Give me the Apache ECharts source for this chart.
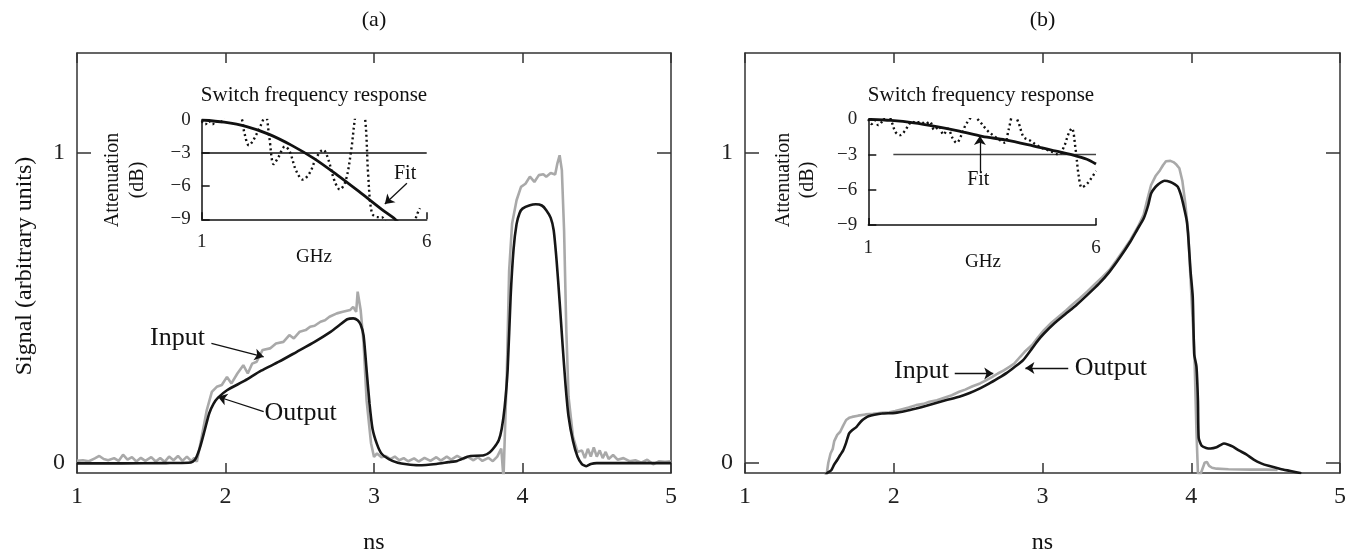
<!DOCTYPE html>
<html><head><meta charset="utf-8">
<script src="https://cdn.jsdelivr.net/npm/echarts@6/dist/echarts.min.js"></script>
<style>html,body{margin:0;padding:0;background:#fff}#c{width:1352px;height:556px}</style>
</head><body><div id="c"></div><script>
const FONT = '"Liberation Serif","Times New Roman",serif';

// ---- axis ticks ----
const mainXTicks = [1, 2, 3, 4, 5];
const mainYTicks = [0, 1];
const insetXTicks = [1, 6];
const insetYTicks = [0, -3, -6, -9];

// ---- panel (a) main curves [ns, signal] ----
const inputA = [[1.00,0.006],[1.04,0.008],[1.08,0.005],[1.12,0.014],[1.15,0.022],[1.18,0.012],[1.21,0.008],[1.25,0.015],[1.28,0.006],[1.31,0.026],[1.34,0.010],[1.37,0.018],[1.40,0.004],[1.43,0.016],[1.46,0.006],[1.50,0.018],[1.53,0.004],[1.56,0.015],[1.59,0.003],[1.62,0.020],[1.65,0.008],[1.68,0.022],[1.71,0.006],[1.74,0.020],[1.77,0.005],[1.79,0.016],[1.807,0.003],[1.84,0.084],[1.874,0.170],[1.908,0.229],[1.941,0.245],[1.975,0.251],[2.01,0.277],[2.04,0.256],[2.08,0.288],[2.12,0.315],[2.15,0.288],[2.18,0.320],[2.21,0.326],[2.25,0.364],[2.30,0.369],[2.34,0.385],[2.39,0.390],[2.43,0.412],[2.46,0.401],[2.50,0.423],[2.54,0.428],[2.57,0.439],[2.60,0.442],[2.64,0.455],[2.67,0.460],[2.70,0.471],[2.75,0.482],[2.79,0.487],[2.84,0.493],[2.86,0.503],[2.88,0.487],[2.89,0.552],[2.91,0.493],[2.93,0.385],[2.95,0.202],[2.98,0.063],[3.00,0.019],[3.02,0.030],[3.05,0.018],[3.08,0.022],[3.11,0.012],[3.14,0.020],[3.17,0.008],[3.20,0.015],[3.23,0.005],[3.27,0.014],[3.30,0.004],[3.34,0.016],[3.38,0.006],[3.42,0.018],[3.45,0.007],[3.49,0.020],[3.52,0.010],[3.56,0.022],[3.60,0.012],[3.63,0.020],[3.67,0.008],[3.70,0.018],[3.73,0.006],[3.77,0.016],[3.80,0.005],[3.83,0.020],[3.857,0.046],[3.872,-0.050],[3.885,-0.050],[3.895,0.300],[3.91,0.620],[3.93,0.772],[3.96,0.847],[3.99,0.890],[4.02,0.900],[4.05,0.923],[4.08,0.906],[4.11,0.928],[4.14,0.931],[4.16,0.923],[4.19,0.935],[4.22,0.930],[4.235,0.966],[4.25,0.992],[4.265,0.944],[4.28,0.750],[4.295,0.428],[4.31,0.213],[4.34,0.084],[4.37,0.035],[4.40,0.040],[4.42,0.015],[4.44,0.045],[4.46,0.020],[4.48,0.050],[4.50,0.020],[4.52,0.040],[4.54,0.015],[4.56,0.035],[4.58,0.012],[4.61,0.025],[4.64,0.010],[4.68,0.015],[4.72,0.005],[4.76,0.008],[4.80,0.000],[4.84,0.010],[4.88,-0.005],[4.92,0.005],[4.96,0.003],[5.00,0.005]];
const outputA = [[1.00,-0.002],[1.30,-0.002],[1.60,-0.001],[1.75,0.000],[1.78,0.004],[1.80,0.014],[1.83,0.052],[1.86,0.105],[1.89,0.159],[1.92,0.191],[1.95,0.210],[2.01,0.234],[2.13,0.265],[2.24,0.297],[2.36,0.326],[2.48,0.358],[2.60,0.390],[2.71,0.423],[2.77,0.445],[2.82,0.463],[2.86,0.466],[2.89,0.460],[2.91,0.446],[2.93,0.410],[2.95,0.300],[2.97,0.190],[2.99,0.110],[3.02,0.060],[3.05,0.030],[3.10,0.012],[3.16,0.000],[3.22,-0.005],[3.30,-0.008],[3.42,-0.004],[3.50,0.002],[3.56,0.006],[3.62,0.018],[3.65,0.022],[3.74,0.024],[3.78,0.034],[3.81,0.050],[3.84,0.073],[3.86,0.110],[3.88,0.180],[3.90,0.300],[3.92,0.535],[3.94,0.690],[3.96,0.770],[3.98,0.805],[4.00,0.820],[4.05,0.831],[4.09,0.834],[4.13,0.830],[4.16,0.815],[4.19,0.790],[4.21,0.750],[4.23,0.650],[4.25,0.520],[4.27,0.380],[4.29,0.250],[4.31,0.150],[4.34,0.070],[4.37,0.020],[4.40,-0.004],[4.43,-0.011],[4.46,-0.004],[4.50,-0.001],[4.60,-0.001],[5.00,-0.001]];

// ---- panel (b) main curves ----
const inputB = [[1.545,-0.050],[1.56,0.000],[1.575,0.030],[1.59,0.045],[1.60,0.070],[1.62,0.090],[1.64,0.100],[1.66,0.120],[1.68,0.138],[1.70,0.145],[1.72,0.148],[1.76,0.152],[1.81,0.156],[1.86,0.158],[1.92,0.161],[1.97,0.163],[2.01,0.167],[2.05,0.172],[2.10,0.178],[2.15,0.186],[2.20,0.190],[2.24,0.197],[2.29,0.202],[2.34,0.210],[2.39,0.218],[2.44,0.229],[2.48,0.236],[2.53,0.247],[2.58,0.256],[2.62,0.266],[2.66,0.276],[2.70,0.288],[2.74,0.298],[2.78,0.310],[2.81,0.320],[2.85,0.342],[2.88,0.358],[2.93,0.380],[2.97,0.405],[3.01,0.428],[3.06,0.452],[3.11,0.472],[3.16,0.492],[3.20,0.510],[3.25,0.530],[3.30,0.552],[3.35,0.575],[3.40,0.598],[3.45,0.622],[3.50,0.655],[3.55,0.690],[3.59,0.718],[3.64,0.760],[3.68,0.800],[3.70,0.840],[3.73,0.896],[3.76,0.925],[3.79,0.944],[3.81,0.960],[3.83,0.973],[3.86,0.974],[3.88,0.970],[3.90,0.962],[3.92,0.950],[3.94,0.910],[3.96,0.837],[3.98,0.740],[3.99,0.643],[4.005,0.500],[4.02,0.374],[4.035,0.100],[4.045,-0.034],[4.06,-0.040],[4.075,-0.020],[4.09,0.000],[4.105,0.003],[4.12,-0.010],[4.14,-0.016],[4.17,-0.019],[4.25,-0.021],[4.40,-0.022],[4.50,-0.022],[4.58,-0.023]];
const outputB = [[1.53,-0.050],[1.55,-0.034],[1.58,-0.024],[1.60,-0.005],[1.62,0.009],[1.64,0.025],[1.66,0.040],[1.68,0.065],[1.70,0.095],[1.72,0.105],[1.75,0.116],[1.77,0.128],[1.79,0.138],[1.81,0.145],[1.83,0.150],[1.87,0.155],[1.92,0.159],[2.01,0.161],[2.08,0.167],[2.15,0.175],[2.22,0.184],[2.29,0.194],[2.36,0.203],[2.44,0.213],[2.51,0.225],[2.58,0.240],[2.64,0.255],[2.70,0.272],[2.76,0.290],[2.81,0.308],[2.87,0.331],[2.93,0.369],[2.97,0.395],[3.01,0.417],[3.08,0.450],[3.16,0.482],[3.23,0.510],[3.30,0.541],[3.38,0.578],[3.45,0.616],[3.52,0.662],[3.59,0.713],[3.64,0.755],[3.68,0.788],[3.71,0.830],[3.73,0.869],[3.76,0.890],[3.78,0.899],[3.82,0.910],[3.86,0.906],[3.89,0.898],[3.91,0.890],[3.93,0.865],[3.95,0.826],[3.97,0.780],[3.98,0.729],[3.995,0.620],[4.01,0.535],[4.02,0.350],[4.035,0.310],[4.045,0.200],[4.05,0.080],[4.07,0.055],[4.10,0.048],[4.13,0.046],[4.17,0.050],[4.20,0.058],[4.22,0.062],[4.25,0.058],[4.28,0.052],[4.32,0.040],[4.37,0.027],[4.42,0.010],[4.47,-0.002],[4.52,-0.010],[4.60,-0.020],[4.66,-0.026],[4.74,-0.034]];

// ---- insets [GHz, dB] ----
const fitA = [[1,0],[1.5,-0.2],[2,-0.6],[2.5,-1.3],[3,-2.3],[3.5,-3.5],[4,-4.95],[4.5,-6.5],[5,-8.1],[5.3,-9.0],[5.4,-9.4]];
const dotA = [[1.0,-0.1],[1.08,-0.4],[1.16,-0.1],[1.24,-0.4],[1.32,-0.1],[1.42,-0.2],[1.5,0.3],[1.6,0.8],[1.75,0.6],[1.88,0.2],[1.95,-1.2],[2.05,-2.3],[2.15,-1.8],[2.3,-0.6],[2.42,0.4],[2.5,-1.5],[2.6,-4.0],[2.7,-3.4],[2.85,-2.4],[2.95,-2.8],[3.1,-4.6],[3.25,-5.4],[3.4,-4.8],[3.55,-3.4],[3.7,-2.7],[3.8,-3.4],[3.95,-5.5],[4.07,-6.3],[4.2,-5.5],[4.32,-2.8],[4.42,0.5],[4.5,1.5],[4.62,0.5],[4.7,-5.0],[4.78,-8.4],[4.9,-8.8],[5.0,-8.8],[5.1,-9.3],[5.4,-10],[5.7,-9.5],[5.78,-8.6],[5.85,-8.0]];
const refA = [[1,-3],[6,-3]];
const fitB = [[1,0],[1.5,-0.1],[2,-0.3],[2.5,-0.62],[3,-1.0],[3.5,-1.45],[4,-1.75],[4.5,-2.15],[5,-2.6],[5.5,-3.05],[5.8,-3.4],[6,-3.8]];
const dotB = [[1.0,0],[1.07,-0.4],[1.14,-0.1],[1.22,-0.5],[1.3,-0.2],[1.38,0.3],[1.44,0.35],[1.52,-0.3],[1.6,-1.1],[1.7,-1.35],[1.8,-1.0],[1.9,-0.4],[1.95,-0.2],[2.05,-0.3],[2.15,-0.2],[2.25,-0.4],[2.35,-0.2],[2.45,-0.9],[2.55,-0.6],[2.65,-1.3],[2.75,-0.8],[2.85,-1.6],[2.94,-2.0],[3.05,-1.3],[3.15,-0.4],[3.31,0.25],[3.45,-0.2],[3.6,-0.9],[3.75,-1.4],[3.9,-1.8],[4.0,-2.0],[4.08,-0.9],[4.19,0.5],[4.3,-0.3],[4.41,-1.5],[4.55,-1.8],[4.7,-2.2],[4.85,-2.5],[5.0,-2.7],[5.18,-3.0],[5.3,-2.3],[5.4,-1.2],[5.47,-0.77],[5.55,-2.5],[5.62,-4.8],[5.69,-5.8],[5.8,-5.5],[5.9,-5.0],[6.0,-4.4]];
const refB = [[1.55,-3],[6,-3]];

// ---- annotation anchors (data coordinates) ----
const inputLabelA = [1.677, 0.401], inputArrowA = [[1.905, 0.385], [2.257, 0.342]];
const outputLabelA = [2.506, 0.159], outputArrowA = [[2.257, 0.165], [1.949, 0.213]];
const inputLabelB = [2.186, 0.294], inputArrowB = [[2.41, 0.288], [2.669, 0.288]];
const outputLabelB = [3.46, 0.306], outputArrowB = [[3.173, 0.306], [2.885, 0.306]];
const fitLabelA = [5.52, -4.83], fitArrowA = [[5.56, -5.74], [5.07, -7.62]];
const fitLabelB = [3.415, -5.17], fitArrowB = [[3.45, -4.46], [3.45, -1.42]];

const chart = echarts.init(document.getElementById('c'), null, {renderer: 'canvas'});
const frameLine = {show: true, onZero: false, lineStyle: {color: '#333', width: 1.5}};
const insetLine = {show: true, onZero: false, lineStyle: {color: '#111', width: 1.5}};
const minus = v => String(v).replace('-', '\u2212');

function mainX(grid, pos, labels) {
  return {type: 'value', gridIndex: grid, position: pos, min: 1, max: 5, interval: 1,
    axisLine: frameLine, splitLine: {show: false},
    axisTick: {show: true, inside: true, length: 10, customValues: mainXTicks, lineStyle: {color: '#333', width: 1.5}},
    axisLabel: {show: labels, customValues: mainXTicks, margin: 12, fontSize: 24, fontFamily: FONT, color: '#222'}};
}
function mainY(grid, pos, labels) {
  return {type: 'value', gridIndex: grid, position: pos, min: -0.033, max: 1.322,
    axisLine: frameLine, splitLine: {show: false},
    axisTick: {show: true, inside: true, length: 14, customValues: mainYTicks, lineStyle: {color: '#333', width: 1.5}},
    axisLabel: {show: labels, customValues: mainYTicks, margin: 12, fontSize: 24, fontFamily: FONT, color: '#222'}};
}
function insetX(grid, margin) {
  return {type: 'value', gridIndex: grid, min: 1, max: 6, position: 'bottom',
    axisLine: insetLine, splitLine: {show: false},
    axisTick: {show: true, inside: true, length: 7, customValues: insetXTicks, lineStyle: {color: '#111', width: 1.5}},
    axisLabel: {show: true, customValues: insetXTicks, margin: margin, fontSize: 19, fontFamily: FONT, color: '#222'}};
}
function insetY(grid) {
  return {type: 'value', gridIndex: grid, min: -9, max: 0, interval: 3, position: 'left',
    axisLine: insetLine, splitLine: {show: false},
    axisTick: {show: true, inside: true, length: 8, customValues: insetYTicks, lineStyle: {color: '#111', width: 1.5}},
    axisLabel: {show: true, customValues: insetYTicks, margin: 11, fontSize: 19, fontFamily: FONT, color: '#222', formatter: minus}};
}
function arrowLine(pts) {
  return {silent: true, symbol: ['none', 'arrow'], symbolSize: 9, animation: false,
    label: {show: false}, lineStyle: {color: '#111', width: 1.3, type: 'solid'},
    emphasis: {disabled: true},
    data: [[{coord: pts[0]}, {coord: pts[1]}]]};
}
function textPoint(pos, txt, size) {
  return {silent: true, symbol: 'circle', symbolSize: 1, itemStyle: {color: 'rgba(0,0,0,0)'}, animation: false,
    label: {show: true, position: 'inside', formatter: txt, fontSize: size, fontFamily: FONT, color: '#111'},
    data: [{coord: pos}]};
}
function line(xi, data, color, width, extra) {
  return Object.assign({type: 'line', xAxisIndex: xi, yAxisIndex: xi, data: data, showSymbol: false, symbol: 'none',
    lineStyle: {color: color, width: width}, silent: true, animation: false, clip: true}, extra || {});
}
function txt(x, y, s, size, rot) {
  return {type: 'text', x: x, y: y, rotation: rot || 0, silent: true,
    style: {text: s, font: size + 'px ' + FONT, fill: '#111', align: 'center', verticalAlign: 'middle'}};
}

const option = {
  backgroundColor: '#fff',
  animation: false,
  grid: [
    {left: 77, top: 53, width: 594, height: 420},
    {left: 745, top: 53, width: 595, height: 420},
    {left: 201.7, top: 120, width: 225, height: 99.3},
    {left: 868.3, top: 119.3, width: 227.7, height: 105.7}
  ],
  xAxis: [mainX(0, 'bottom', true), mainX(0, 'top', false), mainX(1, 'bottom', true), mainX(1, 'top', false), insetX(2, 13), insetX(3, 14)],
  yAxis: [mainY(0, 'left', true), mainY(0, 'right', false), mainY(1, 'left', true), mainY(1, 'right', false), insetY(2), insetY(3)],
  series: [
    line(0, inputA, '#a9a9a9', 2.6, {markLine: arrowLine(inputArrowA), markPoint: textPoint(inputLabelA, 'Input', 26)}),
    line(0, outputA, '#161616', 2.6, {smooth: 0.2, markLine: arrowLine(outputArrowA), markPoint: textPoint(outputLabelA, 'Output', 26)}),
    line(2, inputB, '#a9a9a9', 2.6, {markLine: arrowLine(inputArrowB), markPoint: textPoint(inputLabelB, 'Input', 26)}),
    line(2, outputB, '#161616', 2.6, {smooth: 0.2, markLine: arrowLine(outputArrowB), markPoint: textPoint(outputLabelB, 'Output', 26)}),
    line(4, refA, '#111', 1.5),
    line(4, dotA, '#111', 2.4, {smooth: 0.35, lineStyle: {color: '#111', width: 2.4, type: [2, 3]}}),
    line(4, fitA, '#111', 2.8, {smooth: 0.3, markLine: arrowLine(fitArrowA), markPoint: textPoint(fitLabelA, 'Fit', 20)}),
    line(5, refB, '#444', 1.5),
    line(5, dotB, '#111', 2.4, {smooth: 0.35, lineStyle: {color: '#111', width: 2.4, type: [2, 3]}}),
    line(5, fitB, '#111', 2.8, {smooth: 0.3, markLine: arrowLine(fitArrowB), markPoint: textPoint(fitLabelB, 'Fit', 20)})
  ],
  graphic: [
    txt(374, 20, '(a)', 22), txt(1042.5, 20, '(b)', 22),
    txt(25, 266, 'Signal (arbitrary units)', 24, Math.PI / 2),
    txt(374, 543, 'ns', 24), txt(1042.5, 543, 'ns', 24),
    txt(314, 95, 'Switch frequency response', 21), txt(981, 95, 'Switch frequency response', 21),
    txt(314, 257, 'GHz', 19), txt(983, 262, 'GHz', 19),
    txt(113, 180, 'Attenuation', 20, Math.PI / 2), txt(138, 180, '(dB)', 20, Math.PI / 2),
    txt(784, 180, 'Attenuation', 20, Math.PI / 2), txt(808, 180, '(dB)', 20, Math.PI / 2)
  ]
};
chart.setOption(option);
</script></body></html>
